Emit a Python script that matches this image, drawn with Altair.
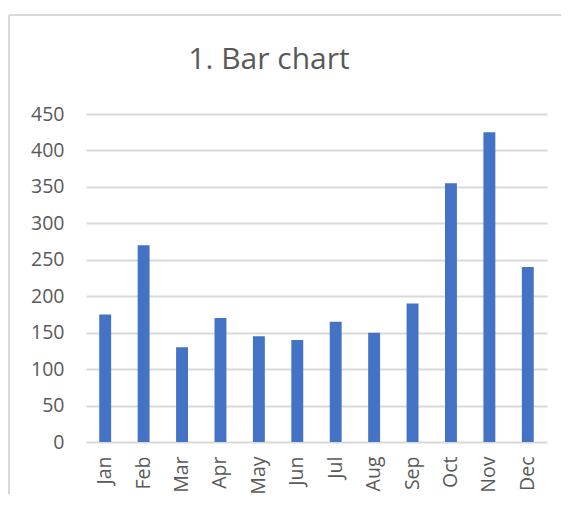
import altair as alt
import pandas as pd

months = ["Jan", "Feb", "Mar", "Apr", "May", "Jun", "Jul", "Aug", "Sep", "Oct", "Nov", "Dec"]
values = [175, 270, 130, 170, 145, 140, 165, 150, 190, 355, 425, 240]
title_text = ["1. Bar chart"]

df = pd.DataFrame({"month": months, "value": values})
tdf = pd.DataFrame({"t": title_text})

FONT = "Open Sans"
TXT = "#595959"
GRID = "#d9d9d9"

bars = alt.Chart(df).mark_bar(color="#4472C4").encode(
    x=alt.X("month:N", sort=months, title=None,
            scale=alt.Scale(paddingInner=0.69, paddingOuter=0.345),
            axis=alt.Axis(labelAngle=-90, labelPadding=14, ticks=False, domain=False,
                          labelFontSize=19.5, labelColor=TXT, labelFont=FONT)),
    y=alt.Y("value:Q", title=None,
            scale=alt.Scale(domain=[0, 450]),
            axis=alt.Axis(values=list(range(0, 451, 50)), ticks=False, domain=False,
                          grid=True, gridColor=GRID, gridWidth=2,
                          labelPadding=22, labelFontSize=19.5, labelColor=TXT, labelFont=FONT)),
)

frame_top = alt.Chart(df).mark_rule(color=GRID, strokeWidth=1.5).encode(
    x=alt.value(-77), x2=alt.value(500), y=alt.value(-99)
)
frame_left = alt.Chart(df).mark_rule(color=GRID, strokeWidth=1.5).encode(
    x=alt.value(-77), y=alt.value(-99), y2=alt.value(420)
)

title = alt.Chart(tdf).mark_text(font=FONT, fontSize=30, color=TXT, align="center",
                                  baseline="alphabetic").encode(
    text="t:N", x=alt.value(183), y=alt.value(-45)
)

chart = alt.layer(frame_top, frame_left, title, bars).properties(
    width=461,
    height=328,
    background="white",
    autosize=alt.AutoSizeParams(type="none"),
    padding={"left": 78, "top": 106, "right": 14, "bottom": 52},
).configure_view(strokeWidth=0, stroke="transparent")

chart.save("out.html", embed_options={"renderer": "svg", "actions": False})
